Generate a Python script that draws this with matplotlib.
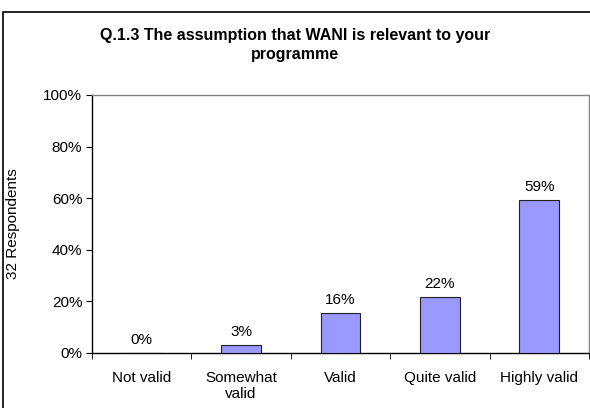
import matplotlib
matplotlib.use("Agg")
import matplotlib.pyplot as plt
from matplotlib.patches import Rectangle
import numpy as np

plt.rcParams['font.family'] = ['Liberation Sans', 'DejaVu Sans']

categories = ["Not valid", "Somewhat\nvalid", "Valid", "Quite valid", "Highly valid"]
values = [0.0, 3.125, 15.625, 21.875, 59.375]
title = "Q.1.3 The assumption that WANI is relevant to your\nprogramme"
ylabel = "32 Respondents"
yticks = [0, 20, 40, 60, 80, 100]

fs = 11
fig = plt.figure(figsize=(5.9, 4.08), dpi=100)
ax = fig.add_axes([92/590, 55/408, 497/590, 258/408])

x = np.arange(len(categories))
ax.bar(x, values, width=0.4, color="#9999FF", edgecolor="#222222", linewidth=0.8, zorder=3)
for xi, v in zip(x, values):
    ax.text(xi, v + 2.2, f"{v:.0f}%", ha="center", va="bottom", fontsize=fs)

ax.set_xlim(-0.5, len(categories) - 0.5)
ax.set_ylim(0, 100)
ax.set_yticks(yticks)
ax.set_yticklabels([f"{t}%" for t in yticks], fontsize=fs)
ax.set_xticks(x)
ax.set_xticklabels(categories, fontsize=fs, linespacing=1.15)
ax.tick_params(axis='x', length=0, pad=13)
ax.set_xticks(np.arange(-0.5, len(categories), 1.0), minor=True)
ax.tick_params(axis='x', which='minor', direction='out', length=4, color='black')
ax.tick_params(axis='y', direction='out', length=4, color='black', pad=3)
ax.set_ylabel(ylabel, fontsize=fs)
ax.yaxis.set_label_coords(-(92 - 20) / 497, 0.5)

for s in ['top', 'right']:
    ax.spines[s].set_color('#808080')
    ax.spines[s].set_linewidth(1)
for s in ['left', 'bottom']:
    ax.spines[s].set_color('black')
    ax.spines[s].set_linewidth(1)

fig.text(295/590, 1 - 45/408, title, ha="center", va="center", fontsize=11.5,
         fontweight="bold", linespacing=1.3)

fig.patches.append(Rectangle((3/590, -0.1), 1.2, 1 - 12/408 + 0.1, transform=fig.transFigure,
                             fill=False, edgecolor='black', linewidth=1.2))

fig.savefig("out.png", dpi=100)
